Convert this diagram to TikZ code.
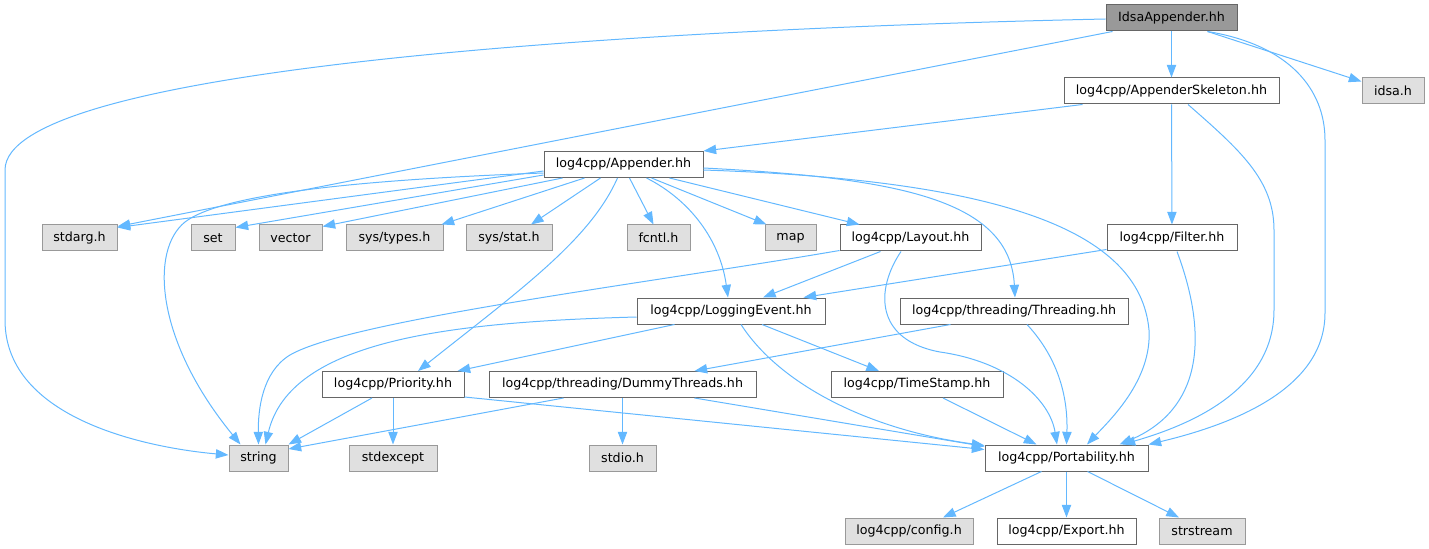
\documentclass[tikz,border=0pt]{standalone}
\usepackage{fontspec}
\setmainfont{DejaVu Sans}
\usetikzlibrary{calc,arrows.meta}
\definecolor{edgeblue}{HTML}{63B8FF}
\definecolor{nodeborder}{HTML}{666666}
\definecolor{extborder}{HTML}{999999}
\definecolor{extfill}{HTML}{E0E0E0}
\definecolor{rootfill}{HTML}{999999}
\tikzset{
  filebox/.style={rectangle, draw=nodeborder, fill=white, line width=0.75pt, inner sep=0pt,
    minimum height=19.5pt, minimum width=#1*0.75pt, font=\fontsize{9.5}{11}\selectfont},
  extbox/.style={filebox=#1, draw=extborder, fill=extfill},
  rootbox/.style={filebox=#1, fill=rootfill},
  edge/.style={draw=edgeblue, line width=0.75pt, -{Triangle[length=9.5pt,width=7pt]}}
}
\begin{document}
\begin{tikzpicture}[x=0.75pt,y=-0.75pt]
\useasboundingbox (0,0) rectangle (1429,549);
% row 0-1
\node[rootbox=131] (ida) at (1171.5,18) {IdsaAppender.hh};
\node[filebox=215] (skel) at (1171.5,91) {log4cpp/AppenderSkeleton.hh};
\node[extbox=62] (idsa) at (1393,91) {idsa.h};
% row 2
\node[filebox=159] (app) at (623.5,164.5) {log4cpp/Appender.hh};
% row 3
\node[extbox=75] (stdarg) at (79.5,238) {stdarg.h};
\node[extbox=44] (set) at (213,238) {set};
\node[extbox=63] (vector) at (290.5,238) {vector};
\node[extbox=97] (systypes) at (394.5,238) {sys/types.h};
\node[extbox=86] (sysstat) at (509,238) {sys/stat.h};
\node[extbox=63] (fcntl) at (658.5,238) {fcntl.h};
\node[extbox=51] (map) at (790.5,238) {map};
\node[filebox=141] (layout) at (910.5,238) {log4cpp/Layout.hh};
\node[filebox=130] (filter) at (1172,238) {log4cpp/Filter.hh};
% row 4
\node[filebox=188] (logev) at (731,311) {log4cpp/LoggingEvent.hh};
\node[filebox=228] (thread) at (1014,311) {log4cpp/threading/Threading.hh};
% row 5
\node[filebox=142] (prio) at (393,384.5) {log4cpp/Priority.hh};
\node[filebox=267] (dummy) at (622.5,384.5) {log4cpp/threading/DummyThreads.hh};
\node[filebox=172] (tstamp) at (917,384.5) {log4cpp/TimeStamp.hh};
% row 6
\node[extbox=59] (string) at (258.5,458) {string};
\node[extbox=88] (stdexcept) at (393,458) {stdexcept};
\node[extbox=67] (stdio) at (622.5,458) {stdio.h};
\node[filebox=163] (port) at (1066.5,458) {log4cpp/Portability.hh};
% row 7
\node[extbox=128] (config) at (909,531) {log4cpp/config.h};
\node[filebox=139] (export) at (1066.5,531) {log4cpp/Export.hh};
\node[extbox=86] (strstream) at (1202,531) {strstream};

% IdsaAppender edges
\draw[edge] ($(ida.west)+(0,1)$) .. controls (600,30) and (5,70) .. (5,170) -- (5,320) .. controls (5,420) and (150,448) .. ($(string.west)+(0,-3)$);
\draw[edge] ($(ida.south west)+(7,0)$) -- ($(stdarg.north east)+(0,2)$);
\draw[edge] (ida) -- (skel);
\draw[edge] ($(ida.south east)+(-30,0)$) -- ($(idsa.north west)+(0,4)$);
\draw[edge] ($(ida.south east)+(-30,0)$) .. controls (1290,45) and (1325,90) .. (1325,140) -- (1325,313) .. controls (1325,390) and (1230,425) .. (port.north east);
% AppenderSkeleton edges
\draw[edge] ($(skel.south west)+(19,0)$) -- (app.north east);
\draw[edge] (skel) -- (filter);
\draw[edge] ($(skel.south)+(16.5,0)$) .. controls (1240,150) and (1274,180) .. (1274,230) -- (1274,310) .. controls (1274,390) and (1190,425) .. ($(port.north)+(56,0)$);
% Appender edges
\draw[edge] ($(app.west)+(0,6.5)$) -- ($(stdarg.north east)+(0,3)$);
\draw[edge] ($(app.west)+(0,8.5)$) .. controls (350,180) and (220,195) .. (185,222) .. controls (150,250) and (155,340) .. ($(string.north)+(-18,0)$);
\draw[edge] ($(app.west)+(0,10.5)$) -- ($(set.north east)+(0,3)$);
\draw[edge] ($(app.south west)+(19,0)$) -- ($(vector.north east)+(0,2)$);
\draw[edge] ($(app.south west)+(41,0)$) -- ($(systypes.north east)+(-2,0)$);
\draw[edge] ($(app.south west)+(57,0)$) -- ($(sysstat.north)+(22,0)$);
\draw[edge] ($(app.south)+(6,0)$) -- ($(fcntl.north)+(-5,0)$);
\draw[edge] ($(app.south)+(28,0)$) -- ($(map.north west)+(2,0)$);
\draw[edge] ($(app.south)+(46,0)$) -- ($(layout.north west)+(20,0)$);
\draw[edge] ($(app.south)+(23,0)$) .. controls (690,200) and (720,240) .. ($(logev.north)+(-3,0)$);
\draw[edge] ($(app.south)+(-6,0)$) .. controls (590,240) and (520,290) .. ($(prio.north)+(25,0)$);
\draw[edge] ($(app.east)+(0,3.5)$) .. controls (900,178) and (1010,200) .. ($(thread.north)+(1,0)$);
\draw[edge] ($(app.east)+(0,5.5)$) .. controls (1000,180) and (1140,230) .. (1149,330) .. controls (1152,380) and (1110,420) .. ($(port.north)+(20.5,0)$);
% Layout edges
\draw[edge] ($(layout.south west)+(0,-1)$) .. controls (650,283) and (350,320) .. (290,355) .. controls (262,372) and (258,410) .. (string.north);
\draw[edge] ($(layout.south west)+(41,0)$) -- ($(logev.north)+(32,0)$);
\draw[edge] ($(layout.south)+(-9.5,0)$) .. controls (875,290) and (875,340) .. (940,352) .. controls (1010,362) and (1050,400) .. ($(port.north)+(-9.5,0)$);
% Filter edges
\draw[edge] ($(filter.south west)+(0,-2)$) -- ($(logev.north east)+(-22,0)$);
\draw[edge] ($(filter.south)+(5,0)$) .. controls (1210,340) and (1200,410) .. ($(port.north)+(53,0)$);
% LoggingEvent edges
\draw[edge] ($(logev.west)+(0,6)$) .. controls (450,322) and (290,340) .. ($(string.north)+(7,0)$);
\draw[edge] ($(logev.south west)+(38,0)$) -- ($(prio.north east)+(-7,0)$);
\draw[edge] ($(logev.south)+(31,0)$) -- ($(tstamp.north)+(-38,0)$);
\draw[edge] ($(logev.south)+(10,0)$) .. controls (780,385) and (870,430) .. ($(port.north west)+(0,1)$);
% Threading edges
\draw[edge] ($(thread.south west)+(51,0)$) -- ($(dummy.north east)+(-62,0)$);
\draw[edge] ($(thread.south)+(13,0)$) .. controls (1060,360) and (1068,400) .. (port.north);
% Priority edges
\draw[edge] ($(prio.south)+(-21,0)$) -- (string.north east);
\draw[edge] (prio) -- (stdexcept);
\draw[edge] ($(prio.south east)+(0,-1)$) -- ($(port.north west)+(0,5)$);
% DummyThreads edges
\draw[edge] ($(dummy.south)+(-59,0)$) -- ($(string.east)+(0,-9)$);
\draw[edge] (dummy) -- (stdio);
\draw[edge] ($(dummy.south east)+(-62,0)$) -- ($(port.north west)+(0,2)$);
% TimeStamp edge
\draw[edge] ($(tstamp.south)+(26,0)$) -- ($(port.north)+(-30,0)$);
% Portability edges
\draw[edge] ($(port.south)+(-25,0)$) -- ($(config.north)+(34,0)$);
\draw[edge] (port) -- (export);
\draw[edge] ($(port.south)+(21,0)$) -- ($(strstream.north)+(-23,0)$);
\end{tikzpicture}
\end{document}
